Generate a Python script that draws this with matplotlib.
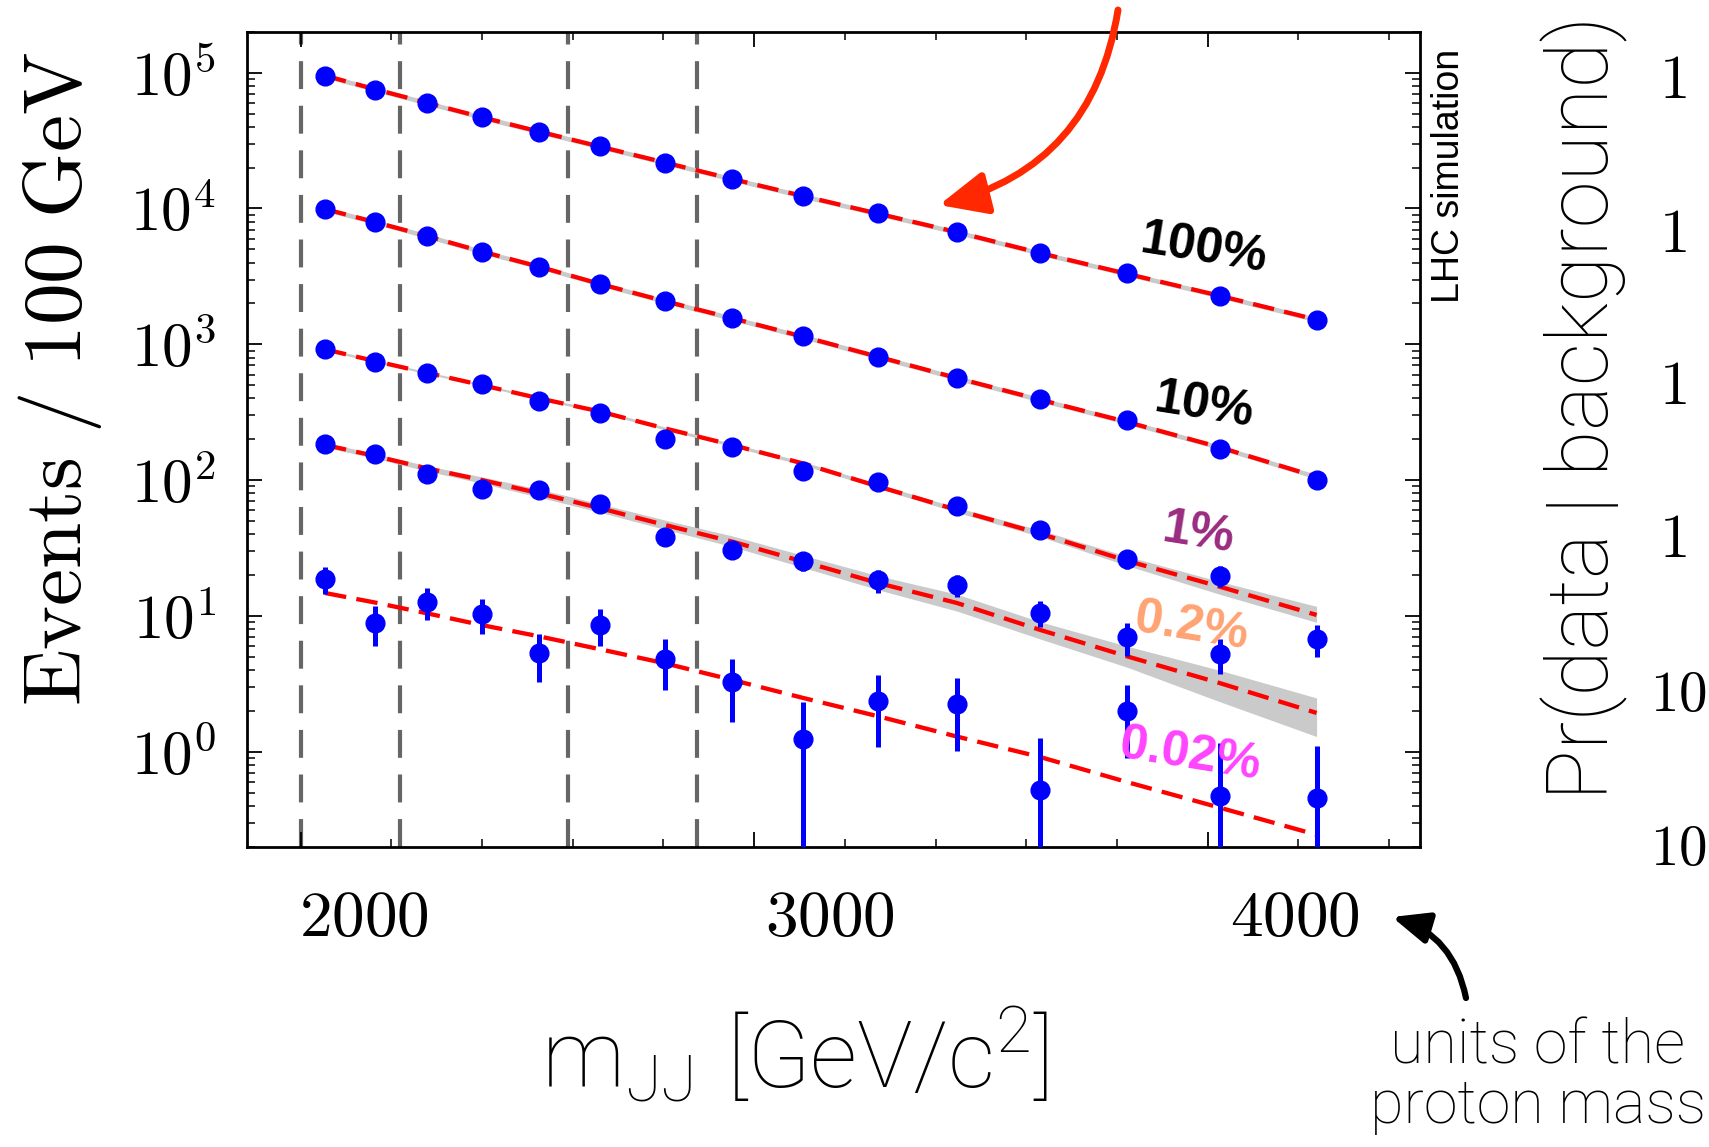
import numpy as np
import matplotlib
matplotlib.use('Agg')
import matplotlib.pyplot as plt
from matplotlib.patches import FancyArrowPatch
from matplotlib.ticker import FixedLocator, MultipleLocator, LogLocator, FuncFormatter, NullFormatter
import matplotlib.transforms as mtransforms

plt.rcParams['mathtext.fontset'] = 'cm'
plt.rcParams['mathtext.rm'] = 'Roboto:light'
plt.rcParams['mathtext.it'] = 'Roboto:light:italic'
plt.rcParams['mathtext.bf'] = 'Roboto:bold'

# ---------------- data ----------------
mjj = [2054, 2164, 2278, 2399, 2526, 2661, 2803, 2951, 3108, 3274, 3447, 3630, 3823, 4026, 4240]
fractions = ['100%', '10%', '1%', '0.2%', '0.02%']
fraction_colors = ['black', 'black', '#9a2c80', '#ffa374', '#ff44ff']

counts_100 = [94000, 75000, 60100, 46900, 36600, 28600, 21700, 16600, 12400, 9190, 6660, 4670, 3330, 2265, 1500]
fit_100 = [95000, 75500, 60000, 47000, 36800, 28500, 21800, 16500, 12350, 9150, 6700, 4700, 3300, 2280, 1520]

counts_10 = [9840, 7980, 6260, 4770, 3720, 2760, 2080, 1570, 1150, 811, 568, 394, 277, 170, 100]
fit_10 = [9900, 7950, 6280, 4830, 3730, 2780, 2080, 1560, 1140, 810, 565, 392, 268, 175, 106]

band_rel_major = 0.04

counts_1 = [919, 737, 612, 508, 383, 314, 202, 176, 117, 97.7, 64.7, 43.1, 26.5, 19.8, 6.81]
err_1 = [25, 22, 20, 18, 16, 14, 11.5, 10.5, 8.7, 7.9, 6.4, 5.3, 4.1, 3.5, 1.8]
fit_1 = [919, 754, 618, 502, 401, 320, 241, 182, 133, 90, 60.5, 40.5, 25.5, 16.5, 10.2]
band_lo_1 = [900, 740, 607, 493, 393, 313, 235, 177, 129, 87, 58, 38.5, 23.5, 14.5, 9.0]
band_hi_1 = [940, 770, 630, 512, 410, 328, 247, 187, 137, 93.5, 63, 43, 27.5, 18.0, 11.8]

counts_02 = [184, 155, 111, 86.3, 84.9, 66.9, 38.5, 30.7, 25.5, 18.4, 17.0, 10.6, 7.01, 5.28, np.nan]
err_02 = [11, 10, 8.5, 7.5, 7.4, 6.5, 5.0, 4.4, 4.0, 3.5, 3.1, 2.3, 1.9, 1.55, np.nan]
fit_02 = [182, 151, 122.5, 100.5, 80.2, 62.2, 46.9, 35.4, 25.2, 17.5, 12.5, 7.93, 5.05, 3.22, 1.94]
band_lo_02 = [175, 145, 117, 95, 75, 58, 43.5, 32.5, 22.8, 15.6, 10.9, 6.8, 4.2, 2.35, 1.3]
band_hi_02 = [189, 157, 128, 106, 86, 67, 51, 39, 28, 19.8, 14.5, 9.1, 6.0, 4.0, 2.5]

counts_002 = [18.8, 8.88, 12.7, 10.4, 5.35, 8.63, 4.83, 3.25, 1.25, 2.38, 2.25, 0.528, 2.01, 0.472, 0.459]
err_002 = [4.2, 2.9, 3.4, 2.95, 2.1, 2.6, 1.95, 1.6, 1.07, 1.3, 1.24, 0.75, 1.1, 0.69, 0.64]
fit_002 = [14.8, 12.6, 10.5, 8.6, 7.1, 5.7, 4.5, 3.4, 2.5, 1.83, 1.30, 0.92, 0.60, 0.39, 0.246]

window_lines = [2000, 2220, 2590, 2875]
xticks_major = [2000, 3000, 4000]
xtick_labels = ['2000', '3000', '4000']
xtick_label_shift = [140, 168, 192]
right_panel_labels = ['1', '1', '1', '1', '10', '10']

# ---------------- figure ----------------
W, H = 1709, 1147
fig = plt.figure(figsize=(W / 100, H / 100), dpi=100)
fig.patch.set_facecolor('white')


def fx(px):
    return px / W


def fy(py):
    return 1 - py / H


ax = fig.add_axes([fx(247), fy(847), fx(1420) - fx(247), fy(31.7) - fy(847)])
ax.set_yscale('log')
ax.set_xlim(1882, 4468)
ax.set_ylim(0.2, 2.0e5)

for xv in window_lines:
    ax.axvline(xv, color='#666666', lw=3.0, ls=(0, (6.7, 4.0)), zorder=1)

x = np.array(mjj, dtype=float)
series = [
    (counts_100, None, fit_100, np.array(fit_100) * (1 - band_rel_major), np.array(fit_100) * (1 + band_rel_major)),
    (counts_10, None, fit_10, np.array(fit_10) * (1 - band_rel_major), np.array(fit_10) * (1 + band_rel_major)),
    (counts_1, err_1, fit_1, band_lo_1, band_hi_1),
    (counts_02, err_02, fit_02, band_lo_02, band_hi_02),
    (counts_002, err_002, fit_002, None, None),
]

for counts, err, fit, lo, hi in series:
    y = np.array(counts, dtype=float)
    if lo is not None:
        ax.fill_between(x, lo, hi, color='#cacaca', lw=0, zorder=2)
    ax.plot(x, fit, color='#ff0000', lw=3.1, ls=(0, (5, 2.4)), zorder=3)
    if err is not None:
        e = np.array(err, dtype=float)
        e_lo = np.minimum(e, y * 0.999)
        ax.errorbar(x, y, yerr=[e_lo, e], fmt='none', ecolor='#0000ff',
                    elinewidth=3.6, capsize=0, zorder=4)
    ax.plot(x, y, 'o', color='#0000ff', ms=13.5, mec='#0000ff', zorder=5)

# axes styling
for sp in ax.spines.values():
    sp.set_linewidth(2.0)
ax.xaxis.set_major_locator(FixedLocator(xticks_major))
ax.xaxis.set_minor_locator(MultipleLocator(200))
ax.yaxis.set_major_locator(LogLocator(base=10, numticks=20))
ax.yaxis.set_minor_locator(LogLocator(base=10, subs=np.arange(2, 10), numticks=20))
ax.yaxis.set_major_formatter(FuncFormatter(lambda v, p: r'$10^{%d}$' % int(round(np.log10(v)))))
ax.yaxis.set_minor_formatter(NullFormatter())
ax.tick_params(which='both', direction='in', top=True, right=True, labelbottom=False)
ax.tick_params(which='major', length=10.5, width=1.3)
ax.tick_params(which='minor', length=5.5, width=1.1)
ax.tick_params(axis='y', which='major', labelsize=44, pad=22)

# x tick labels (placed slightly right of the ticks as in the reference)
tr = mtransforms.blended_transform_factory(ax.transData, ax.transAxes)
for xt, lab, sh in zip(xticks_major, xtick_labels, xtick_label_shift):
    ax.text(xt + sh, -0.087, '$' + lab + '$', transform=tr, ha='center', va='center',
            fontsize=47, clip_on=False)

# fraction labels
label_pos = [(1204, 249), (1204, 406), (1199, 534), (1191, 627), (1190, 755)]
for lab, col, (px, py) in zip(fractions, fraction_colors, label_pos):
    fig.text(fx(px), fy(py), lab, color=col, fontsize=36, fontweight='bold',
             family=['Liberation Sans', 'DejaVu Sans'], rotation=-9, rotation_mode='anchor',
             ha='center', va='center', zorder=10)

# axis labels
fig.text(fx(60), fy(379), r'$\mathrm{Events\ /\ 100\ GeV}$', rotation=90,
         fontsize=60, ha='center', va='center')
fig.text(fx(795), fy(1088), r'$\mathrm{m_{JJ}\ [GeV/c^{2}]}$', fontsize=67,
         ha='center', va='baseline', math_fontfamily='custom')

# LHC simulation
fig.text(fx(1449), fy(176), 'LHC simulation', rotation=90, fontsize=27,
         family=['Liberation Sans Narrow', 'Liberation Sans', 'DejaVu Sans'],
         ha='center', va='center')

# neighbouring panel (cut off)
sans = ['Roboto', 'Lato', 'DejaVu Sans']
fig.text(fx(1584), fy(408), 'Pr(data | background)', rotation=90, fontsize=61,
         family=sans, fontweight='light', ha='center', va='center')
panel_y = [82, 235, 388, 540, 695, 850]
for lab, py in zip(right_panel_labels, panel_y):
    if len(lab) == 1:
        fig.text(fx(1659), fy(py), '$' + lab + '$', fontsize=44, ha='left', va='center')
    else:
        fig.text(fx(1650), fy(py), '$' + lab + '$', fontsize=41, ha='left', va='center')

# annotation text
fig.text(fx(1538), fy(1063), 'units of the', fontsize=44, family=sans,
         fontweight='light', ha='center', va='baseline')
fig.text(fx(1538), fy(1123), 'proton mass', fontsize=44, family=sans,
         fontweight='light', ha='center', va='baseline')

# arrows
red_arrow = FancyArrowPatch((fx(1118), fy(10)), (fx(939), fy(205)), transform=fig.transFigure,
                            connectionstyle='arc3,rad=-0.33',
                            arrowstyle='-|>,head_length=1.45,head_width=0.65',
                            mutation_scale=20, color='#ff2800', lw=5, shrinkA=0, shrinkB=0)
fig.add_artist(red_arrow)
black_arrow = FancyArrowPatch((fx(1466), fy(998)), (fx(1392), fy(917)), transform=fig.transFigure,
                              connectionstyle='arc3,rad=0.3',
                              arrowstyle='-|>,head_length=1.1,head_width=0.47',
                              mutation_scale=20, color='black', lw=4.5, shrinkA=0, shrinkB=0)
fig.add_artist(black_arrow)

fig.savefig('out.png', dpi=100)
